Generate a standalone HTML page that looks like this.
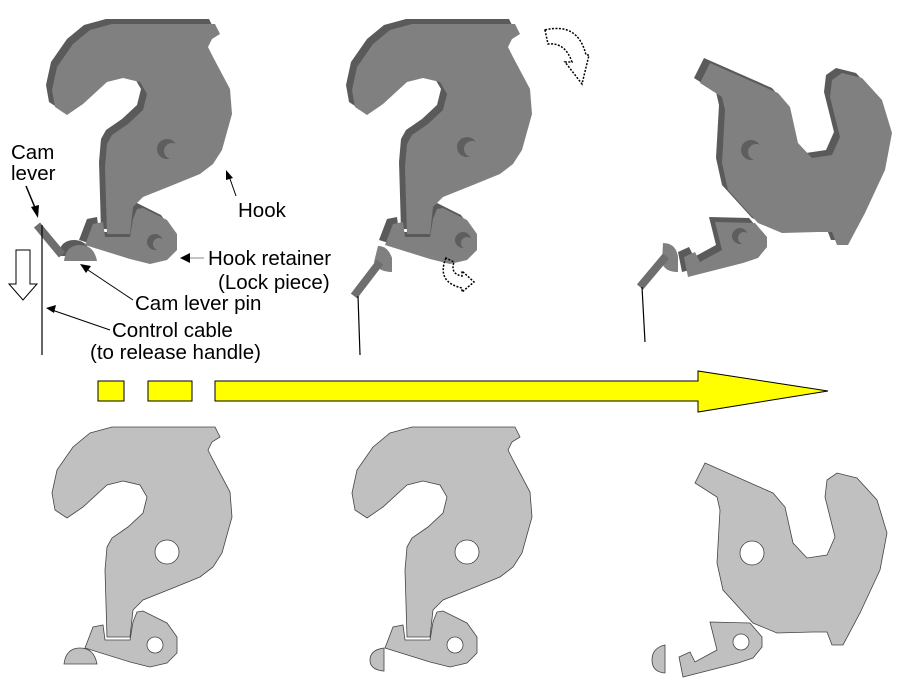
<!DOCTYPE html>
<html><head><meta charset="utf-8"><style>
html,body{margin:0;padding:0;background:#fff;}
svg{display:block;}
text{font-family:"Liberation Sans",sans-serif;font-size:20.5px;fill:#000;}
</style></head><body>
<svg width="907" height="685" viewBox="0 0 907 685" xmlns="http://www.w3.org/2000/svg">
<defs>
<path id="hook" d="M112,427 L215,427 L220,437 L212,442 L208,450 L213,460 L230,492 L232,517 L222,553 L213,567 L200,577 L173,588 L143,600 L133,610 L130,637 L107,637 L105,570 L107,547 L112,538 L128,527 L143,513 L147,497 L140,485 L123,481 L107,485 L83,507 L67,518 L55,510 L52,493 L57,470 L73,447 L90,433 Z"/>
<path id="ret" d="M137,612 L143,611 L167,623 L177,637 L177,653 L167,663 L150,667 L130,662 L85,648 L93,627 L103,625 L105,640 L130,640 L133,622 Z"/>
<path id="pin" d="M64,664 Q66,648 80,648 Q94,648 97,664 Z"/>
<path id="hookR" d="M705,463 L773,493 L785,507 L793,543 L807,558 L827,555 L835,537 L825,497 L827,480 L837,473 L857,478 L877,500 L887,533 L880,570 L860,613 L843,645 L832,645 L827,632 L813,632 L777,633 L753,623 L723,590 L717,563 L720,510 L717,497 L695,483 Z"/>
<path id="retR" d="M710,622 L750,623 L762,637 L762,647 L753,658 L738,663 L683,677 L679,657 L690,652 L695,662 L717,650 Z"/>
<path id="pinR" d="M665,645 Q652,648 652,660 Q652,672 665,673 Z"/>
</defs>

<g transform="translate(-6,-408)" fill="#5a5a5a"><use href="#hook"/><use href="#ret"/><use href="#pin"/></g>
<g transform="translate(0,-403)" fill="#808080"><use href="#hook"/><use href="#ret"/><use href="#pin"/></g>
<circle cx="167" cy="149" r="10" fill="#5e5e5e"/><circle cx="172" cy="151" r="8" fill="#808080"/>
<circle cx="155" cy="242" r="8" fill="#5e5e5e"/><circle cx="159" cy="244" r="6" fill="#808080"/>
<line x1="37" y1="225" x2="62" y2="255" stroke="#6e6e6e" stroke-width="8"/>
<line x1="42" y1="225" x2="42" y2="355" stroke="#000" stroke-width="1.2"/>

<g transform="translate(294,-408)" fill="#5a5a5a"><use href="#hook"/><use href="#ret"/></g>
<g transform="translate(300,-403)" fill="#808080"><use href="#hook"/><use href="#ret"/></g>
<circle cx="467" cy="147" r="10" fill="#5e5e5e"/><circle cx="472" cy="149" r="8" fill="#808080"/>
<circle cx="463" cy="240" r="8" fill="#5e5e5e"/><circle cx="467" cy="243" r="6" fill="#808080"/>
<path d="M378,246 Q388,246 392,258 L392,272 Q378,272 374,262 Z" fill="#808080"/>
<line x1="354" y1="296" x2="380" y2="262" stroke="#6e6e6e" stroke-width="8"/>
<line x1="358" y1="296" x2="360" y2="355" stroke="#000" stroke-width="1.2"/>
<path d="M545,30 Q578,22 586,55 L589,55 L582,84 L565,62 L572,62 Q565,42 548,44 Z" fill="none" stroke="#000" stroke-width="1.5" stroke-dasharray="2,1.5"/>
<path d="M446,258 Q436,282 462,288 L462,292 L474,282 L462,271 L462,276 Q450,274 454,262 Z" fill="none" stroke="#000" stroke-width="1.5" stroke-dasharray="2,1.5"/>

<g transform="translate(-1,-405)" fill="#5a5a5a"><use href="#hookR"/><use href="#retR"/></g>
<g transform="translate(5,-400)" fill="#808080"><use href="#hookR"/><use href="#retR"/></g>
<circle cx="751" cy="150" r="10" fill="#5e5e5e"/><circle cx="756" cy="152" r="8" fill="#808080"/>
<circle cx="740" cy="236" r="8" fill="#5e5e5e"/><circle cx="744" cy="238" r="6" fill="#808080"/>
<path d="M663,243 Q676,243 678,257 L678,272 Q664,272 662,262 Z" fill="#808080"/>
<line x1="640" y1="287" x2="666" y2="256" stroke="#6e6e6e" stroke-width="8"/>
<line x1="642" y1="287" x2="645" y2="342" stroke="#000" stroke-width="1.2"/>

<text x="11" y="159">Cam</text><text x="11" y="180">lever</text>
<line x1="26" y1="186" x2="36" y2="210" stroke="#000" stroke-width="1.5"/><path d="M38,218 L31,207 L39,205 Z"/>
<text x="238" y="217">Hook</text>
<line x1="236" y1="196" x2="229" y2="176" stroke="#000" stroke-width="1"/><path d="M226,170 L233,178 L226,180 Z"/>
<text x="208" y="265">Hook retainer</text><text x="218" y="289">(Lock piece)</text>
<line x1="204" y1="258" x2="187" y2="258" stroke="#888" stroke-width="1"/><path d="M180,258 L190,253 L190,263 Z"/>
<text x="135" y="310">Cam lever pin</text>
<line x1="133" y1="300" x2="85" y2="268" stroke="#000" stroke-width="1"/><path d="M80,264 L91,266 L86,273 Z"/>
<text x="112" y="337">Control cable</text><text x="90" y="359">(to release handle)</text>
<line x1="110" y1="330" x2="52" y2="310" stroke="#000" stroke-width="1"/><path d="M46,308 L56,305 L54,313 Z"/>
<path d="M16,250 L30,250 L30,284 L37,284 L23,300 L9,284 L16,284 Z" fill="#fff" stroke="#000" stroke-width="1"/>

<g fill="#ffff00" stroke="#000" stroke-width="1">
<rect x="98" y="381" width="26" height="20"/>
<rect x="148" y="381" width="44" height="20"/>
<path d="M215,381 L698,381 L698,371 L828,391 L698,412 L698,401 L215,401 Z"/>
</g>

<g fill="#c0c0c0" stroke="#444" stroke-width="0.8">
<use href="#hook"/><use href="#ret"/><use href="#pin"/>
<g transform="translate(300,0)"><use href="#hook"/><use href="#ret"/></g>
<path d="M384,648 Q370,650 370,660 Q370,670 384,671 Z"/>
<use href="#hookR"/><use href="#retR"/><use href="#pinR"/>
</g>
<g fill="#fff" stroke="#444" stroke-width="0.8">
<circle cx="167" cy="552" r="12"/><circle cx="155" cy="645" r="8"/>
<circle cx="467" cy="552" r="12"/><circle cx="455" cy="645" r="8"/>
<circle cx="752" cy="553" r="12"/><circle cx="741" cy="642" r="8"/>
</g>
</svg>
</body></html>
